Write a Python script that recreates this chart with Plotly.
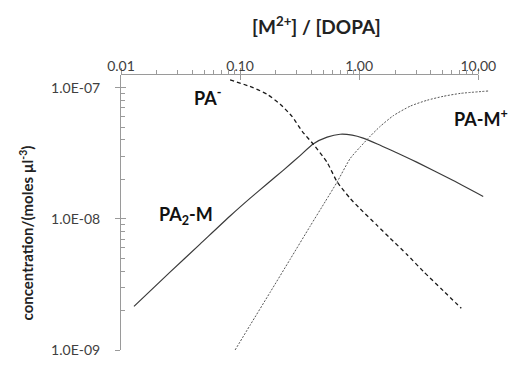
import numpy as np
import plotly.graph_objects as go

# Metal / DOPA ratio and species concentrations (moles per µl^3)
pa2m_ratio = [0.01285, 0.0258, 0.0461, 0.0824, 0.121, 0.169, 0.230, 0.319, 0.410, 0.538,
              0.692, 0.873, 1.08, 1.42, 1.82, 3.07, 5.82, 11.0]
pa2m_conc = [2.15e-9, 3.92e-9, 6.41e-9, 1.05e-8, 1.43e-8, 1.85e-8, 2.34e-8, 3.03e-8, 3.72e-8,
             4.19e-8, 4.41e-8, 4.34e-8, 4.12e-8, 3.72e-8, 3.36e-8, 2.69e-8, 2.01e-8, 1.48e-8]

pa_ratio = [0.0824, 0.1285, 0.169, 0.217, 0.274, 0.332, 0.410, 0.538, 0.653, 0.840, 1.02,
            1.42, 1.82, 2.53, 3.45, 5.08, 7.20]
pa_conc = [1.146e-7, 1.0e-7, 8.87e-8, 7.48e-8, 6.0e-8, 4.64e-8, 3.72e-8, 2.69e-8, 1.91e-8,
           1.43e-8, 1.19e-8, 8.87e-9, 7.11e-9, 5.32e-9, 3.98e-9, 2.83e-9, 2.08e-9]

pam_ratio = [0.0908, 0.1213, 0.1786, 0.263, 0.387, 0.518, 0.653, 0.840, 1.02, 1.24, 1.50,
             1.93, 2.69, 3.72, 5.08, 7.06, 12.1]
pam_conc = [1.0e-9, 1.545e-9, 2.75e-9, 4.91e-9, 8.77e-9, 1.35e-8, 1.91e-8, 2.88e-8, 3.53e-8,
            4.27e-8, 5.06e-8, 6.10e-8, 7.23e-8, 8.01e-8, 8.58e-8, 9.03e-8, 9.42e-8]

x_ticks = [0.01, 0.1, 1, 10]
x_ticktext = ["0.01", "0.10", "1.00", "10.00"]
y_ticks = [1e-9, 1e-8, 1e-7]
y_ticktext = ["1.0E-09", "1.0E-08", "1.0E-07"]

FONT = "Lato"
AXIS_GREY = "#9a9a9a"
TICK_TEXT = "#404040"
X_RANGE = [-2, 1.09]
Y_RANGE = [-9, -6.904]
PLOT_H = 283

# minor tick positions at 2..9 within each decade
x_minor = [m * 10.0 ** e for e in range(-2, 1) for m in range(2, 10)]
y_minor = [m * 10.0 ** e for e in range(-9, -7) for m in range(2, 10)]

fig = go.Figure()
fig.add_trace(go.Scatter(x=pa2m_ratio, y=pa2m_conc, mode="lines", xaxis="x", yaxis="y",
                         line=dict(color="#3a3a3a", width=1.2, shape="spline", smoothing=0.6),
                         showlegend=False))
fig.add_trace(go.Scatter(x=pa_ratio, y=pa_conc, mode="lines", xaxis="x2", yaxis="y2",
                         line=dict(color="#1a1a1a", width=1.3, dash="4px,3px",
                                   shape="spline", smoothing=0.6),
                         showlegend=False))
fig.add_trace(go.Scatter(x=pam_ratio, y=pam_conc, mode="lines", xaxis="x3", yaxis="y3",
                         line=dict(color="#555555", width=1.0, dash="2px,1.5px",
                                   shape="spline", smoothing=0.6),
                         showlegend=False))

common_x = dict(type="log", side="top", range=X_RANGE, showline=False,
                showgrid=False, zeroline=False, tickcolor=AXIS_GREY, tickwidth=1)
common_y = dict(type="log", side="left", range=Y_RANGE, showgrid=False,
                zeroline=False, tickcolor=AXIS_GREY, tickwidth=1)

fig.update_layout(
    # labelled decades, ticks reaching outwards
    xaxis=dict(**common_x, tickvals=x_ticks, ticktext=x_ticktext, ticks="outside", ticklen=6,
               ticklabelstandoff=-9, tickfont=dict(family=FONT, size=14, color=TICK_TEXT)),
    # minor ticks
    xaxis2=dict(**common_x, overlaying="x", anchor="y2", tickvals=x_minor, ticks="outside",
                ticklen=4, showticklabels=False),
    # inward half of the decade ticks
    xaxis3=dict(**common_x, overlaying="x", anchor="y3", tickvals=x_ticks, ticks="inside",
                ticklen=5, showticklabels=False),
    yaxis=dict(**common_y, tickvals=y_ticks, ticktext=y_ticktext, ticks="outside", ticklen=5,
               ticklabelstandoff=12, showline=True, linecolor=AXIS_GREY, linewidth=1,
               tickfont=dict(family=FONT, size=14, color=TICK_TEXT)),
    yaxis2=dict(**common_y, overlaying="y", anchor="x2", tickvals=y_minor, ticks="inside",
                ticklen=4, showticklabels=False, showline=False),
    yaxis3=dict(**common_y, overlaying="y", anchor="x3", tickvals=y_ticks, ticks="inside",
                ticklen=5, showticklabels=False, showline=False),
)

# top axis line spans the labelled decades only (offset half a pixel to stay crisp)
top = 1 + 0.5 / PLOT_H
fig.add_shape(type="line", xref="paper", yref="paper", x0=0, x1=3 / (X_RANGE[1] - X_RANGE[0]),
              y0=top, y1=top, line=dict(color=AXIS_GREY, width=1), layer="above")

label_font = dict(family=FONT, size=18, color="#111111")
annotations = [
    dict(text="<b>PA<sup>-</sup></b>", x=-1.277, y=-7.074),
    dict(text="<b>PA<sub>2</sub>-M</b>", x=-1.454, y=-7.978),
    dict(text="<b>PA-M<sup>+</sup></b>", x=1.025, y=-7.230),
]
for a in annotations:
    fig.add_annotation(xref="x", yref="y", showarrow=False, font=label_font,
                       xanchor="center", yanchor="middle", **a)

fig.add_annotation(text="<b>[M<sup>2+</sup>] / [DOPA]</b>", xref="paper", yref="paper",
                   x=0.53, y=1.18, showarrow=False, xanchor="center", yanchor="middle",
                   font=dict(family=FONT, size=19, color="#222222"))
fig.add_annotation(text="<b>concentration/(moles µl<sup>-3</sup>)</b>", xref="paper", yref="paper",
                   x=-0.258, y=0.424, showarrow=False, textangle=-90,
                   xanchor="center", yanchor="middle",
                   font=dict(family=FONT, size=15, color="#222222"))

fig.update_layout(
    width=510, height=366,
    margin=dict(l=121, r=21, t=75, b=8),
    paper_bgcolor="white", plot_bgcolor="white",
    font=dict(family=FONT),
)

fig.write_html("out.html")
